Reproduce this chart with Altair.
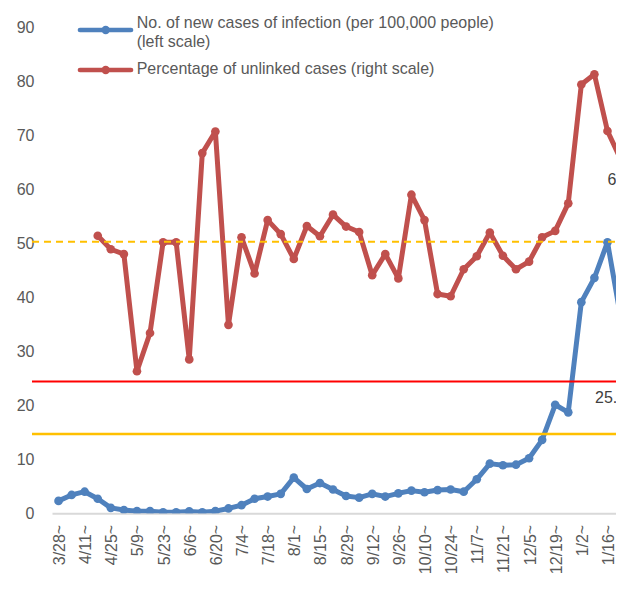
import altair as alt
import pandas as pd

weeks = ["3/28", "4/4", "4/11", "4/18", "4/25", "5/2", "5/9", "5/16", "5/23", "5/30",
         "6/6", "6/13", "6/20", "6/27", "7/4", "7/11", "7/18", "7/25", "8/1", "8/8",
         "8/15", "8/22", "8/29", "9/5", "9/12", "9/19", "9/26", "10/3", "10/10", "10/17",
         "10/24", "10/31", "11/7", "11/14", "11/21", "11/28", "12/5", "12/12", "12/19", "12/26",
         "1/2", "1/9", "1/16", "1/23", "1/30"]

new_cases = [2.3, 3.4, 4.0, 2.7, 1.0, 0.6, 0.4, 0.4, 0.2, 0.2,
             0.35, 0.2, 0.4, 0.9, 1.5, 2.7, 3.1, 3.6, 6.6, 4.5,
             5.6, 4.4, 3.2, 2.9, 3.6, 3.1, 3.7, 4.2, 3.9, 4.3,
             4.4, 4.0, 6.3, 9.2, 8.9, 9.0, 10.2, 13.6, 20.1, 18.7,
             39.1, 43.6, 50.2, 36.4, 25.8]

unlinked_pct = [None, None, None, 51.4, 48.9, 48.0, 26.3, 33.4, 50.2, 50.2,
                28.5, 66.7, 70.7, 34.9, 51.1, 44.4, 54.3, 51.7, 47.1, 53.2,
                51.3, 55.3, 53.1, 52.1, 44.1, 48.0, 43.5, 59.0, 54.3, 40.6,
                40.2, 45.2, 47.6, 52.0, 47.7, 45.2, 46.6, 51.1, 52.3, 57.4,
                79.4, 81.3, 70.8, 65.6, 63.0]

tick_labels = [w + "~" for w in weeks[::2]][:22]

legend_labels = ["No. of new cases of infection (per 100,000 people)\n(left scale)",
                 "Percentage of unlinked cases (right scale)"]

threshold_values = [50.3, 24.4, 14.7]

BLUE = "#4F81BD"
RED = "#C0504D"
FONT = "Liberation Sans"

idx = list(range(len(weeks)))
blue_df = pd.DataFrame({"i": idx, "week": weeks, "v": new_cases})
red_df = pd.DataFrame({"i": idx, "week": weeks, "v": unlinked_pct}).dropna()

PLOT_W = 564
xscale = alt.Scale(domain=[-0.5, -0.5 + PLOT_W / 13.07], nice=False, zero=False)
yscale = alt.Scale(domain=[0, 90], nice=False)

label_expr = "[" + ",".join("'" + t + "'" for t in tick_labels) + "][round(datum.value/2)]"

x_axis = alt.Axis(values=list(range(0, 43, 2)), labelExpr=label_expr, title=None,
                  ticks=False, grid=False, domainColor="#D9D9D9", domainWidth=2,
                  labelAngle=270, labelAlign="right", labelBaseline="middle",
                  labelPadding=11, labelFontSize=16, labelColor="#595959", labelFont=FONT,
                  labelFlush=False, labelOverlap=False, labelBound=False, labelOffset=1)
y_axis = alt.Axis(values=list(range(0, 91, 10)), title=None, ticks=False, grid=False,
                  domain=False, labelPadding=18, labelFontSize=16, labelColor="#595959",
                  labelFont=FONT, labelOverlap=False)

X = alt.X("i:Q", scale=xscale, axis=x_axis)
Y = alt.Y("v:Q", scale=yscale, axis=y_axis)

base_blue = alt.Chart(blue_df).encode(x=X, y=Y)
blue_line = base_blue.mark_line(color=BLUE, strokeWidth=5, strokeJoin="round", clip=True)
blue_pts = base_blue.mark_circle(color=BLUE, size=75, opacity=1, clip=True)

base_red = alt.Chart(red_df).encode(x=X, y=Y)
red_line = base_red.mark_line(color=RED, strokeWidth=5, strokeJoin="round", clip=True)
red_pts = base_red.mark_circle(color=RED, size=75, opacity=1, clip=True)

blue_label = alt.Chart(blue_df[blue_df["i"] == 44]).mark_text(
    font=FONT, fontSize=16, color="#404040", align="center", baseline="middle", dx=-23, dy=24
).encode(x=X, y=Y, text=alt.Text("v:Q", format=".1f"))

red_label = alt.Chart(red_df[red_df["i"] == 43]).mark_text(
    font=FONT, fontSize=16, color="#404040", align="center", baseline="middle", dx=2.5, dy=21
).encode(x=X, y=Y, text=alt.Text("v:Q", format=".1f"))

thr_df = pd.DataFrame({"v": threshold_values})
dashed = alt.Chart(thr_df.iloc[[0]]).mark_rule(color="#FFC000", strokeWidth=2, strokeDash=[7, 5]).encode(
    y=Y, x=alt.value(-20), x2=alt.value(PLOT_W))
red_thr = alt.Chart(thr_df.iloc[[1]]).mark_rule(color="#FF0000", strokeWidth=2).encode(
    y=Y, x=alt.value(-20), x2=alt.value(PLOT_W))
orange_thr = alt.Chart(thr_df.iloc[[2]]).mark_rule(color="#FFC000", strokeWidth=2.5).encode(
    y=Y, x=alt.value(-20), x2=alt.value(PLOT_W))

leg_df = pd.DataFrame({"label": legend_labels, "color": [BLUE, RED]})


def legend_item(k, ysym, ytext):
    col = leg_df["color"][k]
    lines = leg_df["label"][k].split("\n")
    d = pd.DataFrame({"label": lines, "n": list(range(len(lines)))})
    rule = alt.Chart(d.iloc[[0]]).mark_rule(color=col, strokeWidth=4.7, strokeCap="round").encode(
        x=alt.value(28), x2=alt.value(79), y=alt.value(ysym))
    dot = alt.Chart(d.iloc[[0]]).mark_circle(color=col, size=70, opacity=1).encode(
        x=alt.value(53.7), y=alt.value(ysym))
    layers = [rule, dot]
    for j in range(len(lines)):
        layers.append(alt.Chart(d.iloc[[j]]).mark_text(
            font=FONT, fontSize=16, color="#595959", align="left", baseline="alphabetic").encode(
            x=alt.value(84.7), y=alt.value(ytext + 19 * j), text="label:N"))
    return alt.layer(*layers)


chart = alt.layer(
    blue_line, blue_pts, red_line, red_pts, blue_label, red_label,
    dashed, red_thr, orange_thr,
    legend_item(0, 2.7, 0.4), legend_item(1, 42.7, 47),
).properties(
    width=PLOT_W, height=486,
    autosize=alt.AutoSizeParams(type="none"),
    padding={"left": 44, "top": 19.3, "right": 0, "bottom": 66},
).configure_view(stroke=None).configure_axis(labelOverlap=False)

chart.save("out.html", embed_options={"renderer": "svg", "actions": False})
